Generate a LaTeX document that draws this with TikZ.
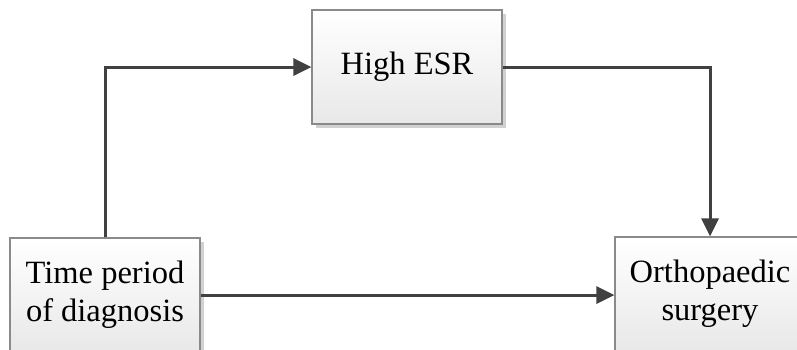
\documentclass[tikz,border=0pt]{standalone}
\usepackage{fontspec}
\setmainfont{Liberation Serif}
\usetikzlibrary{arrows.meta,shadows}
\definecolor{linec}{HTML}{404040}
\definecolor{boxborder}{HTML}{8A8A8A}
\tikzset{
  box/.style={draw=boxborder, line width=1.2pt, top color=white, bottom color=black!9,
    minimum width=190pt, minimum height=114pt, inner sep=0pt, align=center,
    font=\fontsize{32.5}{38}\selectfont,
    drop shadow={shadow xshift=3.5pt, shadow yshift=-3.5pt, fill=black!18, opacity=1}},
  conn/.style={draw=linec, line width=3pt, -{Triangle[length=18pt,width=17pt]}}
}
\begin{document}
\begin{tikzpicture}[x=1pt,y=-1pt]
\useasboundingbox (0,0) rectangle (797,349);
\clip (0,0) rectangle (797,349);
\fill[white] (0,0) rectangle (797,349);
\node[box] (esr) at (407,67) {High ESR};
\node[box] (time) at (105,295) {Time period\\of diagnosis};
\node[box, minimum width=220pt] (ortho) at (725,294) {\begin{tabular}{@{}c@{}}Orthopaedic\\surgery\end{tabular}\hspace*{30pt}};
\coordinate (orthotop) at ([xshift=-15pt]ortho.north);
\draw[conn] (time.north) |- (esr.west);
\draw[conn] (esr.east) -| (orthotop);
\draw[conn] (time.east) -- (time.east -| ortho.west);
\end{tikzpicture}
\end{document}
